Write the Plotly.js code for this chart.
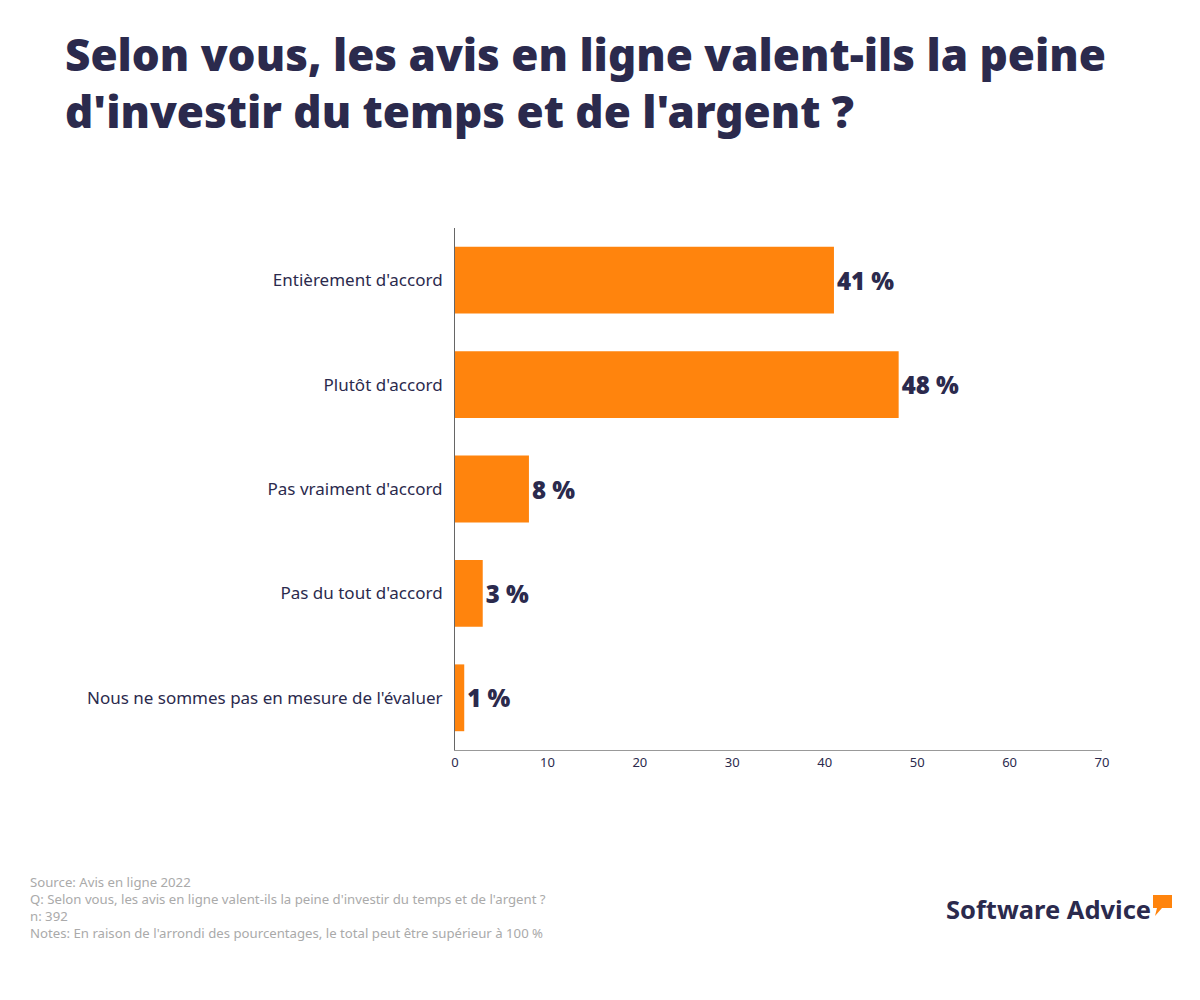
<!DOCTYPE html>
<html><head><meta charset="utf-8">
<script src="https://cdn.plot.ly/plotly-3.0.1.min.js"></script>
<style>body{margin:0;background:#fff}#c{width:1200px;height:1000px}</style>
</head><body><div id="c"></div>
<script>
const categories = ["Entièrement d'accord","Plutôt d'accord","Pas vraiment d'accord","Pas du tout d'accord","Nous ne sommes pas en mesure de l'évaluer"];
const values = [41, 48, 8, 3, 1];
const labels = values.map(v => v + " %");
const tickVals = [0,10,20,30,40,50,60,70];

const dark = "#2b2a4d";
const trace = {
  type: "bar", orientation: "h",
  y: categories, x: values,
  marker: {color: "#ff840d"},
  width: 0.64,
  text: labels, textposition: "outside", cliponaxis: false,
  textfont: {family: "Noto Sans", size: 24, color: dark, weight: 900},
  hoverinfo: "none"
};
const layout = {
  width: 1200, height: 1000,
  margin: {l: 455, r: 98, t: 228, b: 250},
  paper_bgcolor: "#fff", plot_bgcolor: "#fff",
  showlegend: false,
  title: {text: "Selon vous, les avis en ligne valent-ils la peine<br>d'investir du temps et de l'argent ?",
    x: 65/1200, xref: "container", xanchor: "left", y: 1 - 71/1000, yref: "container", yanchor: "top",
    font: {family: "Noto Sans", size: 44, color: dark, weight: 900}},
  xaxis: {range: [0, 70], tickvals: tickVals, showgrid: false, zeroline: false,
    showline: true, linecolor: "#999", linewidth: 1, ticks: "",
    tickfont: {family: "Noto Sans", size: 13, color: dark}},
  yaxis: {autorange: "reversed", showgrid: false, zeroline: false,
    showline: true, linecolor: "#666", linewidth: 1, ticks: "", ticklabelstandoff: 8,
    tickfont: {family: "Noto Sans", size: 17, color: dark}},
  annotations: [
    {xref: "paper", yref: "paper", x: (28-455)/647, y: (750-871)/522, xanchor: "left", yanchor: "top", align: "left",
     showarrow: false,
     text: "Source: Avis en ligne 2022<br>Q: Selon vous, les avis en ligne valent-ils la peine d'investir du temps et de l'argent ?<br>n: 392<br>Notes: En raison de l'arrondi des pourcentages, le total peut être supérieur à 100 %",
     font: {family: "Noto Sans", size: 13.2, color: "#aaaaaa"}},
    {xref: "paper", yref: "paper", x: (1153-455)/647, y: (750-909)/522, xanchor: "right", yanchor: "middle",
     showarrow: false, text: "<b>Software Advice</b>",
     font: {family: "Noto Sans", size: 25.5, color: dark, weight: 900}}
  ],
  shapes: [
    {type: "path", xref: "paper", yref: "paper",
     path: `M ${(1153-455)/647} ${(750-895)/522} L ${(1172-455)/647} ${(750-895)/522} L ${(1172-455)/647} ${(750-908)/522} L ${(1162-455)/647} ${(750-908)/522} L ${(1155-455)/647} ${(750-916)/522} L ${(1157-455)/647} ${(750-908)/522} L ${(1153-455)/647} ${(750-908)/522} Z`,
     fillcolor: "#ff840d", line: {width: 0}}
  ]
};
Plotly.newPlot("c", [trace], layout, {displayModeBar: false, staticPlot: true});
</script></body></html>
